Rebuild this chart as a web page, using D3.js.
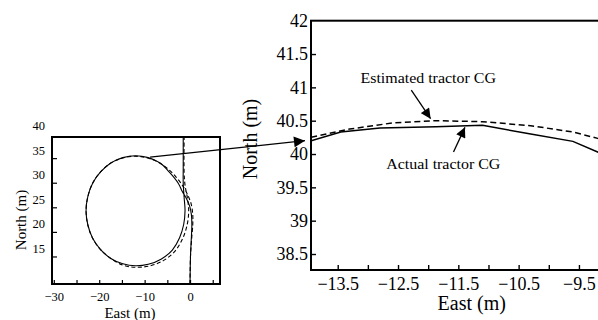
<!DOCTYPE html>
<html>
<head>
<meta charset="utf-8">
<script src="https://cdn.jsdelivr.net/npm/d3@7"></script>
<style>
  body { margin: 0; background: #fff; }
  svg text { font-family: "Liberation Serif", "Times New Roman", serif; fill: #000; }
</style>
</head>
<body>
<svg id="chart" width="598" height="320"></svg>
<script>
// overview: whole manoeuvre, east / north in metres
var overviewActual = [
  [0.0, 9.4], [0.1, 15], [0.25, 18], [0.4, 21.5], [0.3, 23.5], [-0.1, 25.3], [-0.8, 26.8],
  [-1.7, 28.2], [-2.6, 29.9], [-4.5, 32.1], [-6.6, 34.0], [-9.2, 35.1], [-12.0, 35.5],
  [-14.8, 35.1], [-17.45, 34.0], [-19.7, 32.2], [-21.45, 29.9], [-22.5, 27.2], [-22.9, 24.3],
  [-22.5, 21.4], [-21.45, 18.7], [-19.7, 16.4], [-17.45, 14.6], [-14.8, 13.5], [-12.0, 13.1],
  [-9.2, 13.4], [-6.3, 14.5], [-3.9, 16.3], [-2.3, 18.8], [-1.4, 21.5], [-1.1, 24.3],
  [-1.3, 27], [-1.5, 30], [-1.5, 33], [-1.5, 39.3]
];
var overviewEstimated = [
  [0.0, 9.4], [0.1, 15], [0.3, 18], [0.6, 21.5], [0.6, 23.5], [0.3, 25.5], [-0.4, 27.3],
  [-1.5, 29.2], [-3.2, 31.3], [-5.4, 33.2], [-8.0, 34.6], [-10.8, 35.3], [-13.5, 35.3],
  [-15.9, 34.7], [-17.45, 34.0], [-19.7, 32.2], [-21.45, 29.9], [-22.5, 27.2], [-22.9, 24.3],
  [-22.5, 21.4], [-21.45, 18.7], [-19.7, 16.4], [-17.45, 14.6], [-14.7, 13.2], [-11.8, 12.8],
  [-8.8, 13.1], [-5.8, 14.2], [-3.3, 16.1], [-1.6, 18.7], [-0.6, 21.6], [-0.3, 24.4],
  [-0.6, 27], [-1.1, 29.5], [-1.3, 32], [-1.3, 39.3]
];
var overviewXTicks = [-30, -25, -20, -15, -10, -5, 0, 5];
var overviewXLabels = [-30, -20, -10, 0];
var overviewYTicks = [15, 20, 25, 30, 35, 40];

// detail: zoom on the top of the circle
var detailActual = [
  [-13.94, 40.2], [-13.45, 40.33], [-12.8, 40.39], [-11.87, 40.41], [-11.1, 40.43],
  [-10.3, 40.3], [-9.6, 40.19], [-9.19, 40.03], [-8.98, 39.95]
];
var detailEstimated = [
  [-13.94, 40.25], [-13.3, 40.375], [-12.6, 40.465], [-11.87, 40.5], [-11.1, 40.485],
  [-10.3, 40.425], [-9.6, 40.33], [-9.19, 40.235], [-8.98, 40.18]
];
var detailXTicks = [-13.5, -13, -12.5, -12, -11.5, -11, -10.5, -10, -9.5, -9];
var detailXLabels = [-13.5, -12.5, -11.5, -10.5, -9.5];
var detailYTicks = [38.5, 39, 39.5, 40, 40.5, 41, 41.5, 42];

// annotations: [text, text east, text north, arrow from, arrow to]
var notes = [
  ["Estimated tractor CG", -12.0, 41.13, [-12.28, 40.96], [-11.96, 40.53]],
  ["Actual tractor CG", -11.75, 39.85, [-11.58, 40.03], [-11.39, 40.4]]
];
var zoomFrom = [-8.8, 35.2];
var zoomTo = 40.2;

(function() {
  var svg, defs, fmt, xs, ys, xb, yb, small, big, lineS, lineB, ax, stretch, serif;

  svg = d3.select("svg#chart");
  serif = "Liberation Serif, Times New Roman, serif";
  fmt = function(d) { return d < 0 ? "\u2212" + Math.abs(d) : "" + d; };
  stretch = "scale(1.1,1)";

  defs = svg.append("defs");
  defs.append("marker").attr("id", "head").attr("viewBox", "0 0 10 10")
    .attr("refX", 10).attr("refY", 5).attr("markerUnits", "userSpaceOnUse")
    .attr("markerWidth", 12).attr("markerHeight", 11).attr("orient", "auto")
    .append("path").attr("d", "M0,0L10,5L0,10z").style("fill", "#000");
  defs.append("marker").attr("id", "headS").attr("viewBox", "0 0 10 10")
    .attr("refX", 10).attr("refY", 5).attr("markerUnits", "userSpaceOnUse")
    .attr("markerWidth", 11).attr("markerHeight", 10).attr("orient", "auto")
    .append("path").attr("d", "M0,0L10,5L0,10z").style("fill", "#000");

  // ----- overview plot
  xs = d3.scaleLinear().domain([-30.4, 6.6]).range([52, 220]);
  ys = d3.scaleLinear().domain([9.4, 39.3]).range([284, 137]);

  defs.append("clipPath").attr("id", "clipS").append("rect")
    .attr("x", 52).attr("y", 137).attr("width", 168).attr("height", 147);
  defs.append("clipPath").attr("id", "clipB").append("rect")
    .attr("x", 311).attr("y", 20.7).attr("width", 300).attr("height", 249.3);

  small = svg.append("g");
  lineS = d3.line().x(function(d) { return xs(d[0]); }).y(function(d) { return ys(d[1]); })
    .curve(d3.curveCatmullRom);

  small.append("g").attr("clip-path", "url(#clipS)").selectAll("path.trace")
    .data([{ pts: overviewActual, dash: null }, { pts: overviewEstimated, dash: "4,2.5" }])
    .enter().append("path").classed("trace", true)
    .attr("d", function(d) { return lineS(d.pts); })
    .style("fill", "none").style("stroke", "#000").style("stroke-width", 1.1)
    .style("stroke-dasharray", function(d) { return d.dash; });

  ax = small.append("g").attr("transform", "translate(0," + ys.range()[0] + ")")
    .call(d3.axisBottom(xs).tickValues(overviewXTicks).tickSize(-4).tickPadding(8)
      .tickFormat(function(d) { return overviewXLabels.indexOf(d) >= 0 ? fmt(d) : ""; }));
  ax.attr("font-family", serif).attr("font-size", 12.5);
  ax.select(".domain").remove();
  ax.selectAll("line").style("stroke-width", 1.2);

  ax = small.append("g").attr("transform", "translate(" + xs.range()[0] + ",0)")
    .call(d3.axisLeft(ys).tickValues(overviewYTicks).tickSize(-5).tickPadding(7).tickFormat(fmt));
  ax.attr("font-family", serif).attr("font-size", 12.5);
  ax.select(".domain").remove();
  ax.selectAll("line").style("stroke-width", 1.2)
    .style("display", function(d) { return d > ys.domain()[1] ? "none" : null; });
  ax.selectAll("text").attr("y", -8);

  small.append("rect").attr("x", xs.range()[0]).attr("y", ys.range()[1])
    .attr("width", xs.range()[1] - xs.range()[0]).attr("height", ys.range()[0] - ys.range()[1])
    .style("fill", "none").style("stroke", "#000").style("stroke-width", 2);

  small.append("text").attr("x", (xs.range()[0] + xs.range()[1]) / 2 - 6).attr("y", 318)
    .attr("text-anchor", "middle").style("font-size", "15px").text("East (m)");
  small.append("text").attr("transform", "translate(26,220) rotate(-90)")
    .attr("text-anchor", "middle").style("font-size", "15px").text("North (m)");

  // ----- detail plot
  xb = d3.scaleLinear().domain([-13.943, -8.985]).range([311, 610]);
  yb = d3.scaleLinear().domain([38.26, 42]).range([270, 20.7]);

  big = svg.append("g");
  lineB = d3.line().x(function(d) { return xb(d[0]); }).y(function(d) { return yb(d[1]); });

  big.append("g").attr("clip-path", "url(#clipB)").selectAll("path.trace")
    .data([{ pts: detailActual, dash: null }, { pts: detailEstimated, dash: "6,3.5" }])
    .enter().append("path").classed("trace", true)
    .attr("d", function(d) { return lineB(d.pts); })
    .style("fill", "none").style("stroke", "#000").style("stroke-width", 1.5)
    .style("stroke-dasharray", function(d) { return d.dash; });

  ax = big.append("g").attr("transform", "translate(0," + yb.range()[0] + ")")
    .call(d3.axisBottom(xb).tickValues(detailXTicks).tickSize(-5).tickPadding(7)
      .tickFormat(function(d) { return detailXLabels.indexOf(d) >= 0 ? fmt(d) : ""; }));
  ax.attr("font-family", serif).attr("font-size", 18);
  ax.select(".domain").remove();
  ax.selectAll("line").style("stroke-width", 1.4);

  ax = big.append("g").attr("transform", "translate(" + xb.range()[0] + ",0)")
    .call(d3.axisLeft(yb).tickValues(detailYTicks).tickSize(-5).tickPadding(3).tickFormat(fmt));
  ax.attr("font-family", serif).attr("font-size", 18);
  ax.select(".domain").remove();
  ax.selectAll("line").style("stroke-width", 1.4)
    .style("display", function(d) { return d >= yb.domain()[1] ? "none" : null; });

  big.append("rect").attr("x", xb.range()[0]).attr("y", yb.range()[1])
    .attr("width", xb.range()[1] - xb.range()[0]).attr("height", yb.range()[0] - yb.range()[1])
    .style("fill", "none").style("stroke", "#000").style("stroke-width", 2);

  big.append("text").attr("x", 471.7).attr("y", 310)
    .attr("text-anchor", "middle").style("font-size", "20px").text("East (m)");
  big.append("text").attr("transform", "translate(257,139) rotate(-90)")
    .attr("text-anchor", "middle").style("font-size", "20px").text("North (m)");

  big.selectAll("text.note").data(notes).enter().append("text").classed("note", true)
    .attr("transform", function(d) {
      return "translate(" + xb(d[1]) + "," + yb(d[2]) + ") " + stretch;
    })
    .attr("dy", "0.33em").attr("text-anchor", "middle").style("font-size", "14.5px")
    .text(function(d) { return d[0]; });

  big.selectAll("line.note").data(notes).enter().append("line").classed("note", true)
    .attr("x1", function(d) { return xb(d[3][0]); }).attr("y1", function(d) { return yb(d[3][1]); })
    .attr("x2", function(d) { return xb(d[4][0]); }).attr("y2", function(d) { return yb(d[4][1]); })
    .style("stroke", "#000").style("stroke-width", 1.3).attr("marker-end", "url(#headS)");

  // connector from the overview to the detail
  svg.append("line")
    .attr("x1", xs(zoomFrom[0])).attr("y1", ys(zoomFrom[1]))
    .attr("x2", xb.range()[0] - 6).attr("y2", yb(zoomTo))
    .style("stroke", "#000").style("stroke-width", 1.3).attr("marker-end", "url(#head)");
}).call(this);
</script>
</body>
</html>
